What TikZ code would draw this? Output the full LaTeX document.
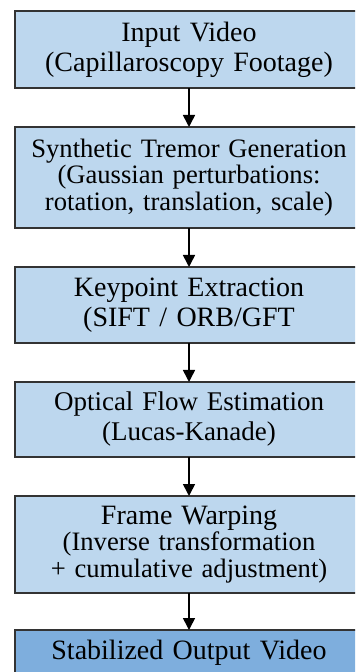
\documentclass[tikz,border=0pt]{standalone}
\usepackage{fontspec}
\setmainfont{Liberation Serif}
\usetikzlibrary{arrows.meta}
\definecolor{boxblue}{HTML}{BDD7EE}
\definecolor{boxdark}{HTML}{7EAEDD}
\tikzstyle{main}   = [inner sep=0pt, outer sep=0pt, text centered, line width=0.8pt, minimum width=174pt, text width=172pt, font=\fontsize{14}{15}\selectfont]
\tikzstyle{clight} = [fill=boxblue, draw=black!80]
\tikzstyle{cdark}  = [fill=boxdark, draw=black!80]
\tikzstyle{tight}  = [font=\fontsize{13.3}{13.4}\selectfont]
\tikzstyle{flow}   = [-{Triangle[length=6pt,width=6pt]}, line width=0.8pt]

\begin{document}
\begin{tikzpicture}[x=0.5pt, y=-0.5pt]
     \useasboundingbox (0,0) rectangle (355,672);
     \clip (0,0) rectangle (355,672);
     \draw
       node[main, clight, minimum height=38.5pt]       (input)   at (189, 49.5)  {Input Video\\(Capillaroscopy Footage)}
       node[main, clight, tight, minimum height=50.5pt] (tremor) at (189, 177.5) {Synthetic Tremor Generation\\(Gaussian perturbations:\\rotation, translation, scale)}
       node[main, clight, minimum height=38pt]         (keypts)  at (189, 305)   {Keypoint Extraction\\(SIFT / ORB/GFT}
       node[main, clight, minimum height=37.5pt, font=\fontsize{13.5}{15}\selectfont] (flowest) at (189, 419.5) {Optical Flow Estimation\\(Lucas-Kanade)}
       node[main, clight, tight, minimum height=48.5pt] (warp)   at (189, 544.5) {{\fontsize{14}{13.4}\selectfont Frame Warping}\\(Inverse transformation\\+ cumulative adjustment)}
       node[main, cdark, minimum height=23pt]          (output)  at (189, 653)   {Stabilized Output Video};
     % arrows between stages
     \draw[flow] (input.south)   -- (tremor.north);
     \draw[flow] (tremor.south)  -- (keypts.north);
     \draw[flow] (keypts.south)  -- (flowest.north);
     \draw[flow] (flowest.south) -- (warp.north);
     \draw[flow] (warp.south)    -- (output.north);
\end{tikzpicture}
\end{document}
